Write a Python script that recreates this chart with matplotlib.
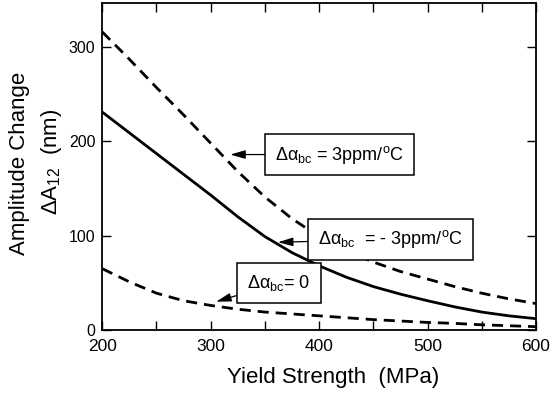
import numpy as np
import matplotlib
matplotlib.use("Agg")
import matplotlib.pyplot as plt
from matplotlib.ticker import MultipleLocator

plt.rcParams['font.family'] = ['Liberation Sans', 'DejaVu Sans']
plt.rcParams['mathtext.fontset'] = 'custom'
plt.rcParams['mathtext.rm'] = 'Liberation Sans'
plt.rcParams['mathtext.it'] = 'Liberation Sans'

# yield strength (MPa)
yield_mpa = [200, 225, 250, 275, 300, 325, 350, 375, 400, 425, 450, 475, 500, 525, 550, 575, 600]
# amplitude change dA12 (nm) for each mismatch
amp_plus3 = [316, 287, 257, 228, 198, 168, 141, 118, 99, 84, 72, 62, 54, 46, 39, 33, 28]
amp_minus3 = [231, 209, 187, 165, 143, 120, 99, 82, 68, 56, 46, 38, 31, 24.5, 19, 15, 12]
amp_zero = [65, 51, 39, 31, 26, 22, 19, 17, 15, 13, 11, 9.5, 8, 7, 5.5, 4.5, 3.5]

fig = plt.figure(figsize=(5.52, 3.95), dpi=100)
ax = fig.add_axes([0.1853, 0.1646, 0.7857, 0.8286])

ax.plot(yield_mpa, amp_plus3, color='black', lw=2.0, dashes=(4, 2.5))
ax.plot(yield_mpa, amp_minus3, color='black', lw=2.0)
ax.plot(yield_mpa, amp_zero, color='black', lw=2.0, dashes=(4, 2.5))

ax.set_xlim(200, 600)
ax.set_ylim(0, 347)
ax.xaxis.set_major_locator(MultipleLocator(100))
ax.xaxis.set_minor_locator(MultipleLocator(50))
ax.yaxis.set_major_locator(MultipleLocator(100))
ax.tick_params(which='both', direction='in', top=True, right=True,
               length=6.5, width=1.0)
ax.tick_params(axis='x', pad=6.5, labelsize=12.5)
ax.tick_params(axis='y', pad=5, labelsize=11.5)
for s in ax.spines.values():
    s.set_linewidth(1.3)

fig.text(333 / 552, 1 - 378 / 395, 'Yield Strength  (MPa)', fontsize=16,
         ha='center', va='center')
fig.text(20 / 552, 1 - 163 / 395, 'Amplitude Change', fontsize=16,
         rotation=90, ha='center', va='center')
fig.text(51 / 552, 1 - 162 / 395, r'$\Delta$A$_{12}$  (nm)', fontsize=16,
         rotation=90, ha='center', va='center')

box = dict(boxstyle='square,pad=0.55', fc='white', ec='black', lw=1.1)
arrow = dict(arrowstyle='-|>,head_length=0.7,head_width=0.2', color='black',
             lw=0.9, shrinkA=0, shrinkB=0)
ax.annotate(r'Δα$_{\mathrm{bc}}$ = 3ppm/$^{\mathrm{o}}$C', xy=(318, 186), xytext=(419, 186),
            fontsize=13, ha='center', va='center', bbox=box, arrowprops=arrow)
ax.annotate(r'Δα$_{\mathrm{bc}}$  = - 3ppm/$^{\mathrm{o}}$C', xy=(362, 93), xytext=(466, 96),
            fontsize=13, ha='center', va='center', bbox=box, arrowprops=arrow)
ax.annotate(r'Δα$_{\mathrm{bc}}$= 0', xy=(305, 30), xytext=(363, 50),
            fontsize=13, ha='center', va='center', bbox=box, arrowprops=arrow)

fig.savefig('out.png', dpi=100)
